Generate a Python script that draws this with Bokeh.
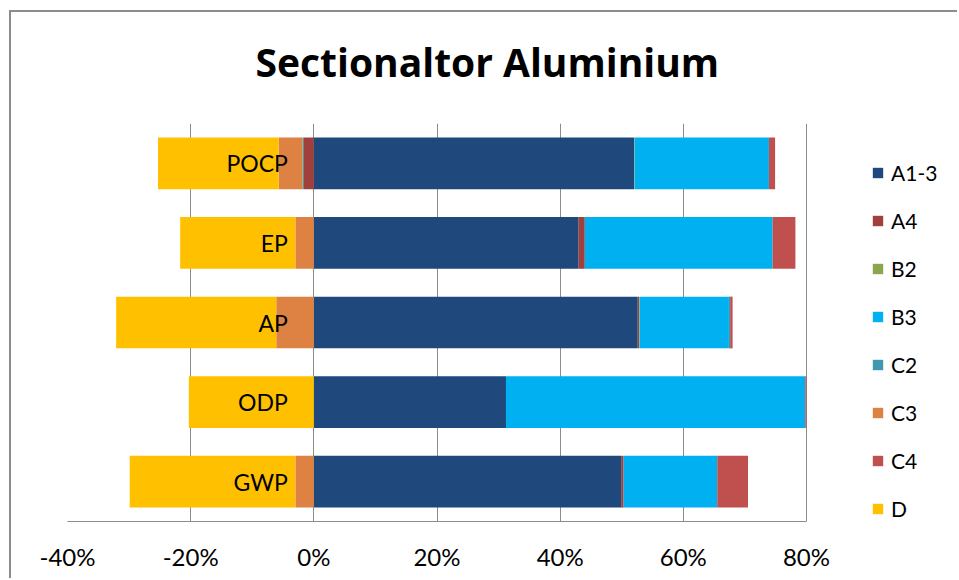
from bokeh.plotting import figure
from bokeh.models import (ColumnDataSource, FixedTicker, NumeralTickFormatter,
                          Legend, LegendItem, Title, FactorRange, Range1d)
from bokeh.core.properties import value
from bokeh.embed import file_html
from bokeh.resources import INLINE

# ---- data (percent) ----
categories = ["POCP", "EP", "AP", "ODP", "GWP"]
series_names = ["A1-3", "A4", "B2", "B3", "C2", "C3", "C4", "D"]
a13 = [52.0, 43.0, 52.6, 31.2, 49.9]
a4 = [-1.6, 1.0, 0.2, 0.0, 0.4]
b2 = [0.1, 0.0, 0.1, 0.0, 0.0]
b3 = [21.8, 30.5, 14.5, 48.6, 15.2]
c2 = [-0.2, 0.0, 0.2, 0.0, 0.0]
c3 = [-3.9, -3.0, -6.1, 0.0, -3.0]
c4 = [1.0, 3.7, 0.4, 0.2, 5.0]
d = [-19.6, -18.7, -26.0, -20.3, -26.9]
x_ticks = [-40, -20, 0, 20, 40, 60, 80]
colors = ["#1F497D", "#A0403D", "#8BA64E", "#00B0F0", "#3F98B0", "#DE8243", "#C0504D", "#FFC000"]
title_text = "Sectionaltor Aluminium"

series = [a13, a4, b2, b3, c2, c3, c4, d]

FONT = "Lato"
GRID = "#8C8C8C"
X_MIN, X_MAX = x_ticks[0] / 100, x_ticks[-1] / 100

# canvas offset by the chart border (css margin + border)
OFF_X, OFF_Y = 11, 12
FIG_W, FIG_H = 959 - OFF_X, 580 - OFF_Y
FRAME_LEFT = 67 - OFF_X
FRAME_TOP = 123 - OFF_Y
FRAME_BOTTOM = FIG_H - (521 - OFF_Y)
AXIS_PX = 739          # pixel width of the -40%..80% span
X_VIEW_MAX = X_MIN + (X_MAX - X_MIN) * (FIG_W - FRAME_LEFT) / AXIS_PX

p = figure(width=FIG_W, height=FIG_H, output_backend="svg", toolbar_location=None,
           y_range=FactorRange(*categories[::-1], range_padding=0),
           x_range=Range1d(X_MIN, X_VIEW_MAX),
           min_border_left=FRAME_LEFT, min_border_right=0, min_border_top=FRAME_TOP,
           min_border_bottom=FRAME_BOTTOM)
p.title.visible = False
p.outline_line_color = None
p.background_fill_color = "white"
p.border_fill_color = "white"

# stacked bars with separate positive / negative stacks
pos = [0.0] * len(categories)
neg = [0.0] * len(categories)
items = []
for name, vals, col in zip(series_names, series, colors):
    left, right = [], []
    for i, v in enumerate(vals):
        f = v / 100.0
        if f >= 0:
            left.append(pos[i]); right.append(pos[i] + f); pos[i] += f
        else:
            right.append(neg[i]); left.append(neg[i] + f); neg[i] += f
    src = ColumnDataSource(dict(y=categories, left=left, right=right))
    r = p.hbar(y="y", left="left", right="right", height=0.65, source=src,
               fill_color=col, line_color=None)
    items.append(LegendItem(label=name, renderers=[r]))

# category labels just left of the zero line
lab_src = ColumnDataSource(dict(y=categories, x=[0.0] * len(categories), t=categories))
p.text(x="x", y="y", text="t", source=lab_src, text_align="right", text_baseline="middle",
       x_offset=-26, text_font=value(FONT), text_font_size="23px", text_color="#000000")

# axes
p.yaxis.visible = False
p.ygrid.visible = False
p.xgrid.ticker = FixedTicker(ticks=[t / 100 for t in x_ticks])
p.xgrid.grid_line_color = GRID
p.xgrid.grid_line_width = 1
xa = p.xaxis[0]
xa.bounds = (X_MIN, X_MAX)
xa.ticker = FixedTicker(ticks=[t / 100 for t in x_ticks])
xa.formatter = NumeralTickFormatter(format="0%")
xa.axis_line_color = GRID
xa.major_tick_line_color = None
xa.minor_tick_line_color = None
xa.major_label_text_font = FONT
xa.major_label_text_font_size = "24px"
xa.major_label_text_color = "#000000"
xa.major_label_standoff = 14

# legend (inside the extended frame, right of the 80% line)
legend = Legend(items=items, location=(804, 0), orientation="vertical",
                glyph_width=13, glyph_height=13, label_height=13,
                spacing=23, label_standoff=7, padding=0, margin=0,
                border_line_color=None, background_fill_alpha=0,
                label_text_font=FONT, label_text_font_size="21px",
                label_text_color="#000000")
p.add_layout(legend, "center")

# spacer between frame and title, then the title itself
spacer = Title(text=" ", text_font_size="1px", standoff=28)
p.add_layout(spacer, "above")
t = Title(text=title_text, align="left", text_font="Open Sans", text_font_size="39px",
          text_font_style="bold", text_color="#000000", standoff=10, offset=188)
p.add_layout(t, "above")

p.styles = {"border-left": "2px solid #8C8C8C", "border-top": "2px solid #8C8C8C",
            "margin-left": "9px", "margin-top": "10px"}

open("out.html", "w").write(file_html(p, INLINE))
